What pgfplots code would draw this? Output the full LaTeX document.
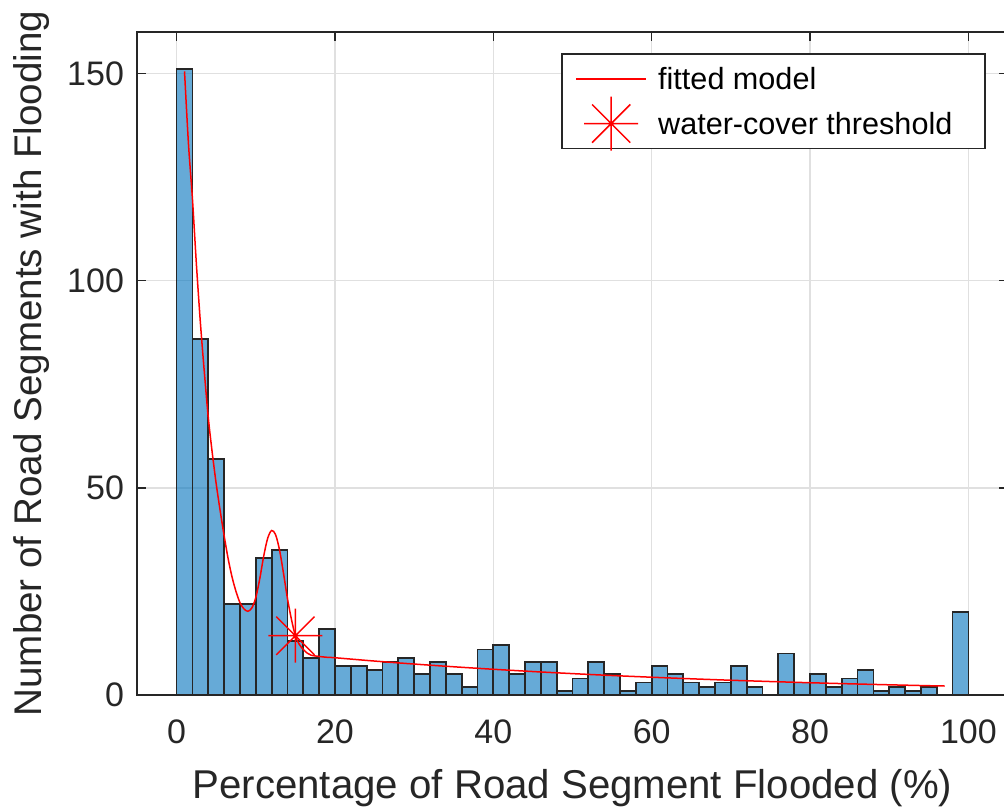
\documentclass[border=0pt]{standalone}
\usepackage{fontspec}
\setmainfont{Liberation Sans}
\usepackage{pgfplots}
\pgfplotsset{compat=1.18}

\definecolor{matblue}{RGB}{0,114,189}
\definecolor{axgray}{RGB}{38,38,38}

% MATLAB-style '*' marker: + and x together
\pgfdeclareplotmark{star8}{%
  \pgfpathmoveto{\pgfqpoint{-\pgfplotmarksize}{0pt}}%
  \pgfpathlineto{\pgfqpoint{\pgfplotmarksize}{0pt}}%
  \pgfpathmoveto{\pgfqpoint{0pt}{-\pgfplotmarksize}}%
  \pgfpathlineto{\pgfqpoint{0pt}{\pgfplotmarksize}}%
  \pgfpathmoveto{\pgfqpoint{-0.7071\pgfplotmarksize}{-0.7071\pgfplotmarksize}}%
  \pgfpathlineto{\pgfqpoint{0.7071\pgfplotmarksize}{0.7071\pgfplotmarksize}}%
  \pgfpathmoveto{\pgfqpoint{-0.7071\pgfplotmarksize}{0.7071\pgfplotmarksize}}%
  \pgfpathlineto{\pgfqpoint{0.7071\pgfplotmarksize}{-0.7071\pgfplotmarksize}}%
  \pgfusepathqstroke}

\pgfplotsset{
  lineleg/.style={legend image code/.code={\draw[draw=red, line width=0.75pt] (5pt,0pt) -- (40pt,0pt);
      \path[draw=none, fill=none] (0pt,-4pt) rectangle (44pt,4pt);}},
  markleg/.style={legend image code/.code={%
      \begin{pgfinterruptboundingbox}
      \draw[draw=red, line width=0.75pt, mark size=13.5pt] plot[mark=star8] coordinates {(22.5pt,0pt)};
      \end{pgfinterruptboundingbox}
      \path[draw=none, fill=none] (0pt,-4pt) rectangle (44pt,4pt);}},
}

\begin{document}
\begin{tikzpicture}
\begin{axis}[
    scale only axis, width=435.5pt, height=331.5pt,
    xmin=-5, xmax=105, ymin=0, ymax=160,
    xtick={0,20,...,100}, ytick={0,50,100,150},
    grid=major, major grid style={black!12, line width=0.8pt},
    axis line style={axgray, line width=0.8pt},
    tick style={axgray, line width=0.8pt},
    tick align=inside, major tick length=4.5pt,
    ticklabel style={font=\fontsize{17}{20}\selectfont, text=axgray},
    /pgf/number format/assume math mode=true,
    xticklabel style={yshift=-9pt},
    yticklabel style={xshift=-3pt},
    xlabel={Percentage of Road Segment Flooded (\%)},
    ylabel={Number of Road Segments with Flooding},
    xlabel style={font=\fontsize{20.1}{23}\selectfont, text=axgray,
        at={(axis description cs:0.5,-0.1554)}, anchor=base},
    ylabel style={font=\fontsize{19.3}{23}\selectfont, text=axgray,
        at={(axis description cs:-0.1091,0.5)}, anchor=base},
    legend style={at={(axis description cs:0.9747,0.9683)}, anchor=north east,
        draw=axgray, line width=0.8pt, font=\fontsize{15.3}{18}\selectfont,
        row sep=0pt, inner xsep=2pt, inner ysep=1.3pt,
        nodes={text height=15.7pt, text depth=4.7pt, inner ysep=1pt}},
    legend cell align=left,
]
% histogram, bins of width 2
\addplot[ybar interval, fill=matblue, fill opacity=0.6, draw=black!85, draw opacity=1,
    line width=0.9pt, forget plot] coordinates {
    (0,151)(2,86)(4,57)(6,22)(8,22)(10,33)(12,35)(14,13)(16,9)(18,16)
    (20,7)(22,7)(24,6)(26,8)(28,9)(30,5)(32,8)(34,5)(36,2)(38,11)
    (40,12)(42,5)(44,8)(46,8)(48,1)(50,4)(52,8)(54,5)(56,1)(58,3)
    (60,7)(62,5)(64,3)(66,2)(68,3)(70,7)(72,2)(74,0)(76,10)(78,3)
    (80,5)(82,2)(84,4)(86,6)(88,1)(90,2)(92,1)(94,2)(96,0)(98,20)(100,0)
};
% fitted model
\addplot[red, line width=0.75pt, smooth, lineleg] coordinates {
    (1.0,150.5)(1.5,133)(2.0,119.8)(2.5,104)(3.0,90)(3.5,78)(4.0,67)(4.5,58.5)
    (5.0,51)(5.5,44.5)(6.0,38.5)(6.5,33)(7.0,28.5)(7.5,25)(8.0,22.3)(8.5,20.8)
    (9.0,20.2)(9.5,21)(10.0,23.5)(10.5,28)(11.0,33.5)(11.5,37.8)(12.0,39.7)
    (12.5,38.7)(13.0,35)(13.5,29.4)(14.0,23.3)(14.5,18.3)(15.0,14.3)(15.5,12.2)
    (16.0,11.0)(16.5,10.1)(17.0,9.6)(18,9.3)(19,9.1)(20,8.99)(25,8.19)(30,7.47)
    (35,6.81)(40,6.21)(45,5.66)(50,5.16)(55,4.70)(60,4.29)(65,3.91)(70,3.56)
    (75,3.25)(80,2.96)(85,2.70)(90,2.46)(95,2.24)(97,2.17)
};
\addlegendentry{\makebox[159.5pt][l]{fitted model}}
% threshold
\addplot[only marks, mark=star8, mark size=13.5pt, red, line width=0.75pt, markleg]
    coordinates {(15.0,14.3)};
\addlegendentry{\makebox[159.5pt][l]{water-cover threshold}}
\end{axis}
\pgfresetboundingbox
\useasboundingbox ([xshift=-68.5pt,yshift=-58pt]current axis.south west) rectangle ([xshift=-2pt,yshift=16pt]current axis.north east);
\end{tikzpicture}
\end{document}
